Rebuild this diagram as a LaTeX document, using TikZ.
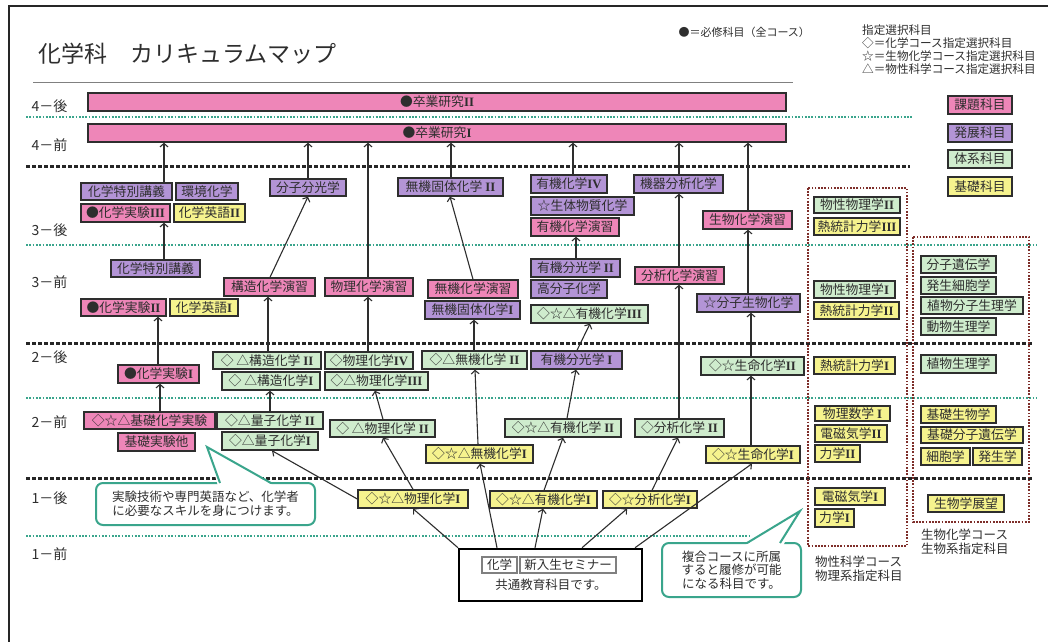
\documentclass[tikz,border=0pt]{standalone}
\usepackage{fontspec}
\setmainfont{Noto Sans CJK JP}
\newfontfamily\rmn{Liberation Serif}
\usetikzlibrary{arrows.meta,calc}
\definecolor{pk}{HTML}{EE86B8}
\definecolor{pu}{HTML}{B394D6}
\definecolor{gr}{HTML}{CFECCD}
\definecolor{ye}{HTML}{F6F38E}
\definecolor{tl}{HTML}{3AA58C}
\definecolor{brn}{HTML}{7E2E2A}
\definecolor{ink}{HTML}{2E2E2E}
\newcommand\R[1]{{\rmn\bfseries #1}}
\tikzset{
  box/.style={draw=ink, line width=1.4pt, inner sep=0pt, font=\fontsize{12.8}{13}\selectfont, text=ink},
  pkb/.style={box, fill=pk},
  pub/.style={box, fill=pu},
  grb/.style={box, fill=gr},
  yeb/.style={box, fill=ye},
  whb/.style={draw=gray, line width=1.2pt, fill=white, inner sep=0pt, font=\fontsize{12.5}{13}\selectfont, text=ink},
  arrw/.style={draw=ink, line width=1.1pt, -{Straight Barb[length=3.5pt,width=8pt]}},
  blkline/.style={line width=3pt, dash pattern=on 3.5pt off 2.5pt, black!85},
  tlline/.style={line width=1.8pt, dash pattern=on 1.7pt off 1.6pt, tl},
  crs/.style={draw=brn, line width=2pt, dash pattern=on 1.7pt off 1.5pt},
  bub/.style={draw=tl, line width=2pt},
  rowlab/.style={anchor=west, font=\fontsize{14}{14}\selectfont, text=ink},
  txt/.style={font=\fontsize{12.5}{14}\selectfont, text=ink}
}
\newcommand\bx[7]{\node[#2, minimum width={(#5-#3)*1pt}, minimum height={(#6-#4)*1pt}] (#1) at ({(#3+#5)/2},{(#4+#6)/2}) {#7};}
\newcommand\arr[4]{\draw[arrw] let \p1=(#1.north), \p2=(#3.south) in (#2pt,\y1) -- (#4pt,\y2);}
\begin{document}
\begin{tikzpicture}[x=1pt,y=-1pt]
\useasboundingbox (0,0) rectangle (1054,642);
\fill[white] (0,0) rectangle (1054,642);
\draw[line width=1.5pt, black!85] (9,642) -- (9,6) -- (1048,6);
% title
\node[anchor=west, font=\fontsize{23}{23}\selectfont, text=ink] (title) at (35,54) {化学科　カリキュラムマップ};
\draw[gray, line width=1pt] (33,82) -- (793,82);
% legends
\node[anchor=west, font=\fontsize{11}{11}\selectfont, text=ink] (hissu) at (675,32) {●＝必修科目（全コース）};
\node[anchor=north west, align=left, inner sep=0pt, font=\fontsize{11.6}{12.7}\selectfont, text=ink] (shitei) at (862,25) {指定選択科目\\◇＝化学コース指定選択科目\\☆＝生物化学コース指定選択科目\\△＝物性科学コース指定選択科目};
% row labels
\node[rowlab] (r8) at (28,106) {4－後};
\node[rowlab] (r7) at (28,145) {4－前};
\node[rowlab] (r6) at (28,230) {3－後};
\node[rowlab] (r5) at (28,282) {3－前};
\node[rowlab] (r4) at (28,357) {2－後};
\node[rowlab] (r3) at (28,422) {2－前};
\node[rowlab] (r2) at (28,498) {1－後};
\node[rowlab] (r1) at (28,554) {1－前};
% separators
\draw[tlline] (26,117) -- (913,117);
\draw[blkline] (26,166) -- (910,166);
\draw[tlline] (26,245) -- (1037,245);
\draw[blkline] (26,343) -- (1032,343);
\draw[tlline] (26,398) -- (1037,398);
\draw[blkline] (26,478) -- (1032,478);
\draw[tlline] (26,536) -- (750,536);
% course frames
\draw[crs] (808,188) rectangle (907,546);
\draw[crs] (913,237) rectangle (1029,522);
\node[anchor=north west, align=left, inner sep=0pt, txt] (cap1) at (815,556) {物性科学コース\\物理系指定科目};
\node[anchor=north west, align=left, inner sep=0pt, txt] (cap2) at (921,529) {生物化学コース\\生物系指定科目};
% legend boxes
\bx{lg1}{pkb}{948}{96}{1012}{114}{課題科目}
\bx{lg2}{pub}{948}{124}{1012}{142}{発展科目}
\bx{lg3}{grb}{948}{150}{1012}{168}{体系科目}
\bx{lg4}{yeb}{948}{177}{1012}{196}{基礎科目}
% 4th year
\bx{sotsuB}{pkb}{88}{93}{786}{111}{●卒業研究\R{II}}
\bx{sotsuA}{pkb}{88}{124}{786}{142}{●卒業研究\R{I}}
% 3-late
\bx{tokuB}{pub}{81}{183}{172}{200}{化学特別講義}
\bx{kankyo}{pub}{176}{183}{238}{200}{環境化学}
\bx{jikkenC}{pkb}{81}{204}{170}{222}{●化学実験\R{III}}
\bx{eigoB}{yeb}{174}{204}{245}{222}{化学英語\R{II}}
\bx{bunko}{pub}{270}{179}{346}{196}{分子分光学}
\bx{mukiKotaiB}{pub}{398}{178}{503}{196}{無機固体化学 \R{II}}
\bx{yukiD}{pub}{531}{175}{607}{193}{有機化学\R{IV}}
\bx{seitai}{pub}{531}{197}{634}{215}{☆生体物質化学}
\bx{yukiEn}{pkb}{531}{218}{619}{236}{有機化学演習}
\bx{kiki}{pub}{634}{175}{723}{193}{機器分析化学}
\bx{seibutsuEn}{pkb}{703}{211}{792}{229}{生物化学演習}
% 3-early
\bx{tokuA}{pub}{111}{260}{200}{277}{化学特別講義}
\bx{jikkenB}{pkb}{81}{299}{166}{316}{●化学実験\R{II}}
\bx{eigoA}{yeb}{170}{299}{238}{316}{化学英語\R{I}}
\bx{kozoEn}{pkb}{224}{278}{315}{296}{構造化学演習}
\bx{butsuriEn}{pkb}{325}{278}{413}{296}{物理化学演習}
\bx{mukiEn}{pkb}{428}{280}{518}{298}{無機化学演習}
\bx{mukiKotaiA}{pub}{425}{301}{520}{319}{無機固体化学\R{I}}
\bx{yukiBunkoB}{pub}{531}{259}{620}{277}{有機分光学 \R{II}}
\bx{kobunshi}{pub}{531}{280}{607}{298}{高分子化学}
\bx{yukiC}{grb}{531}{305}{648}{323}{◇☆△有機化学\R{III}}
\bx{bunsekiEn}{pkb}{635}{267}{724}{284}{分析化学演習}
\bx{bunshiSei}{pub}{697}{294}{800}{312}{☆分子生物化学}
% 2-late
\bx{jikkenA}{pkb}{118}{365}{199}{383}{●化学実験\R{I}}
\bx{kozoB}{grb}{213}{352}{321}{369}{◇ △構造化学 \R{II}}
\bx{kozoA}{grb}{222}{372}{320}{390}{◇ △構造化学\R{I}}
\bx{butsuriD}{grb}{325}{352}{413}{369}{◇物理化学\R{IV}}
\bx{butsuriC}{grb}{325}{372}{428}{390}{◇△物理化学\R{III}}
\bx{mukiB}{grb}{422}{351}{527}{369}{◇△無機化学 \R{II}}
\bx{yukiBunkoA}{pub}{531}{351}{622}{369}{有機分光学 \R{I}}
\bx{seimeiB}{grb}{701}{357}{804}{375}{◇☆生命化学\R{II}}
% 2-early
\bx{kisoJikken}{pkb}{84}{412}{215}{429}{◇☆△基礎化学実験}
\bx{kisoHoka}{pkb}{118}{433}{195}{451}{基礎実験他}
\bx{ryoshiB}{grb}{217}{412}{323}{429}{◇△量子化学 \R{II}}
\bx{ryoshiA}{grb}{222}{432}{318}{450}{◇△量子化学\R{I}}
\bx{butsuriB}{grb}{330}{420}{435}{437}{◇ △物理化学 \R{II}}
\bx{mukiA}{yeb}{426}{445}{533}{463}{◇☆△無機化学\R{I}}
\bx{yukiB}{grb}{505}{419}{621}{437}{◇☆△有機化学 \R{II}}
\bx{bunsekiB}{grb}{635}{419}{724}{437}{◇分析化学 \R{II}}
\bx{seimeiA}{yeb}{706}{446}{800}{463}{◇☆生命化学\R{I}}
% 1-late
\bx{butsuriA}{yeb}{358}{490}{468}{508}{◇☆△物理化学\R{I}}
\bx{yukiA}{yeb}{490}{491}{597}{508}{◇☆△有機化学\R{I}}
\bx{bunsekiA}{yeb}{603}{491}{697}{508}{◇☆分析化学\R{I}}
% physics course
\bx{bpB}{grb}{814}{197}{900}{213}{物性物理学\R{II}}
\bx{ntC}{yeb}{814}{218}{900}{235}{熱統計力学\R{III}}
\bx{bpA}{grb}{814}{281}{895}{298}{物性物理学\R{I}}
\bx{ntB}{yeb}{814}{302}{899}{319}{熱統計力学\R{II}}
\bx{ntA}{yeb}{814}{357}{895}{374}{熱統計力学\R{I}}
\bx{bsA}{yeb}{815}{406}{890}{421}{物理数学 \R{I}}
\bx{djB}{yeb}{815}{425}{887}{442}{電磁気学\R{II}}
\bx{rgB}{yeb}{815}{445}{860}{462}{力学\R{II}}
\bx{djA}{yeb}{815}{488}{885}{505}{電磁気学\R{I}}
\bx{rgA}{yeb}{815}{509}{854}{527}{力学\R{I}}
% bio course
\bx{biA}{grb}{921}{256}{996}{273}{分子遺伝学}
\bx{biB}{grb}{921}{277}{996}{294}{発生細胞学}
\bx{biC}{grb}{921}{297}{1023}{314}{植物分子生理学}
\bx{biD}{grb}{921}{318}{996}{335}{動物生理学}
\bx{biE}{grb}{921}{355}{996}{373}{植物生理学}
\bx{biF}{yeb}{921}{406}{996}{423}{基礎生物学}
\bx{biG}{yeb}{921}{427}{1023}{443}{基礎分子遺伝学}
\bx{biH}{yeb}{921}{448}{970}{465}{細胞学}
\bx{biI}{yeb}{973}{448}{1022}{465}{発生学}
\bx{biJ}{yeb}{928}{495}{1004}{512}{生物学展望}
% common education box
\node[draw=black, line width=2.5pt, minimum width=183pt, minimum height=52pt, inner sep=0pt] (kyotsu) at (550.5,575) {};
\bx{kagaku}{whb}{482}{557}{517}{573}{化学}
\bx{seminar}{whb}{520}{557}{616}{573}{新入生セミナー}
\node[txt] (kyotsuText) at (551,585) {共通教育科目です。};
% arrows
\arr{tokuB}{164}{sotsuA}{164}
\arr{bunko}{308}{sotsuA}{308}
\arr{butsuriEn}{368}{sotsuA}{368}
\arr{mukiKotaiB}{451}{sotsuA}{451}
\arr{yukiD}{573}{sotsuA}{573}
\arr{kiki}{679}{sotsuA}{679}
\arr{seibutsuEn}{748}{sotsuA}{748}
\arr{tokuA}{164}{jikkenC}{164}
\arr{kozoEn}{270}{bunko}{308}
\arr{mukiEn}{473}{mukiKotaiB}{450}
\arr{yukiBunkoB}{576}{yukiEn}{576}
\arr{bunsekiEn}{679}{kiki}{679}
\arr{bunshiSei}{748}{seibutsuEn}{748}
\arr{jikkenA}{158}{jikkenB}{158}
\arr{kozoB}{268}{kozoEn}{268}
\arr{butsuriD}{368}{butsuriEn}{368}
\arr{mukiB}{474}{mukiKotaiA}{474}
\arr{yukiBunkoA}{577}{yukiC}{590}
\arr{seimeiB}{751}{bunshiSei}{751}
\arr{kisoJikken}{160}{jikkenA}{160}
\arr{ryoshiB}{270}{kozoA}{270}
\arr{butsuriB}{383}{butsuriC}{375}
\arr{mukiA}{478}{mukiB}{475}
\arr{yukiB}{567}{yukiBunkoA}{576}
\arr{bunsekiB}{679}{bunsekiEn}{679}
\arr{seimeiA}{751}{seimeiB}{751}
\draw[arrw] let \p2=(ryoshiA.south) in (butsuriA.west) -- (272pt,\y2);
\arr{butsuriA}{413}{butsuriB}{383}
\arr{yukiA}{544}{yukiB}{563}
\arr{bunsekiA}{652}{bunsekiB}{678}
\arr{kyotsu}{458}{butsuriA}{413}
\arr{kyotsu}{497}{mukiA}{480}
\arr{kyotsu}{535}{yukiA}{543}
\arr{kyotsu}{582}{bunsekiA}{627}
\arr{kyotsu}{635}{seimeiA}{752}
% bubbles
\node[bub, fill=white, rounded corners=7pt, minimum width=219pt, minimum height=42pt, align=center, txt] (bubA) at (205.5,504) {実験技術や専門英語など、化学者\\に必要なスキルを身につけます。};
\fill[white] (218,486) -- (207,447) -- (274,486) -- cycle;
\draw[bub, line join=miter] (220,483) -- (207,447) -- (271,483);
\node[bub, fill=white, rounded corners=7pt, minimum width=139pt, minimum height=54pt, align=center, font=\fontsize{12.5}{13.5}\selectfont, text=ink] (bubB) at (731.5,570) {複合コースに所属\\すると履修が可能\\になる科目です。};
\fill[white] (744,546) -- (800,511) -- (783,546) -- cycle;
\draw[bub, line join=miter] (747,543) -- (800,511) -- (780,543);
\end{tikzpicture}
\end{document}
